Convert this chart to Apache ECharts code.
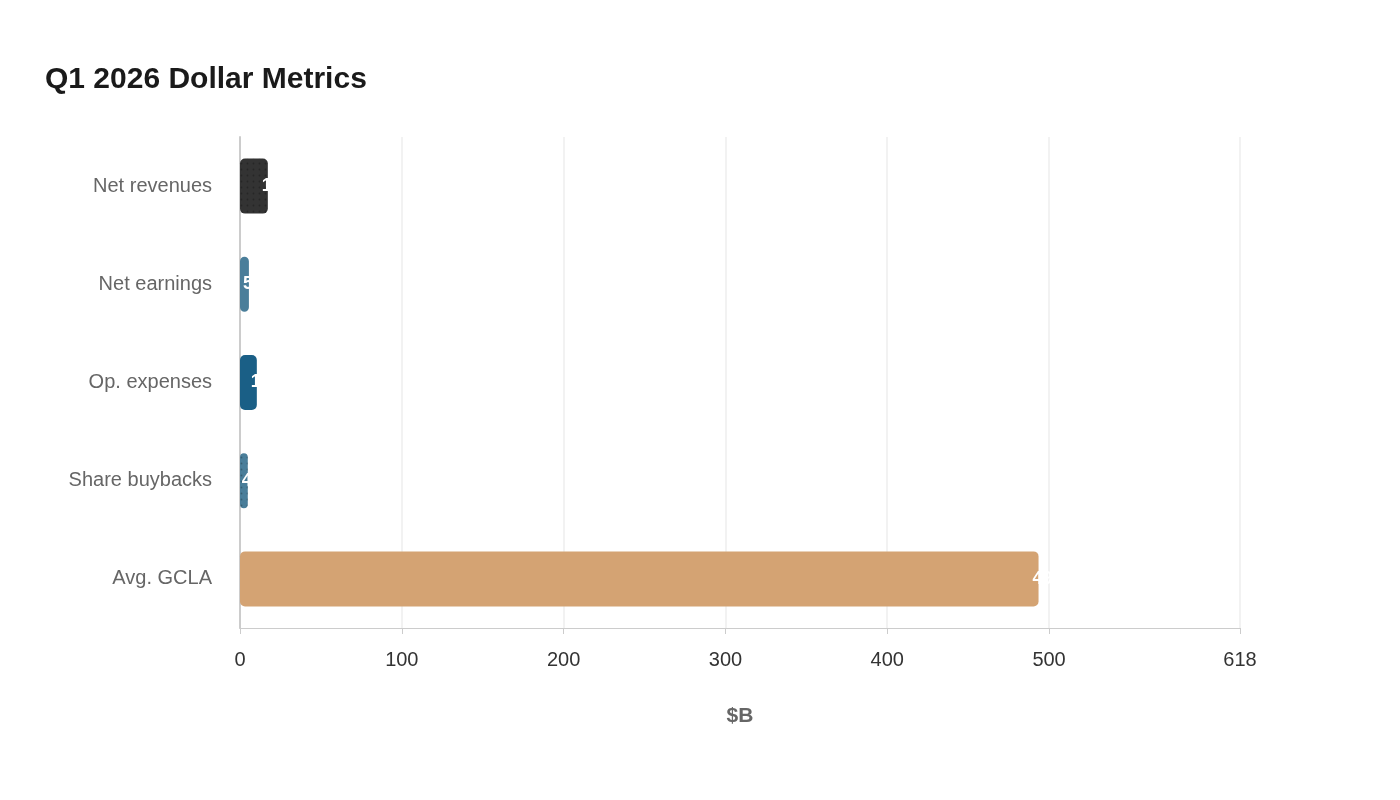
<!DOCTYPE html><html><head><meta charset="utf-8"><script src="https://cdn.jsdelivr.net/npm/echarts@6/dist/echarts.min.js"></script></head><body style="margin:0"><div id="c" style="width:1400px;height:800px"></div><script>
const categories=['Net revenues','Net earnings','Op. expenses','Share buybacks','Avg. GCLA'];
const values=[17.2,5.5,10.4,4.8,493.5];
const colors=['#333333','#4a7e9a','#1a5f86','#4a7e9a','#d4a373'];
const tickValues=[0,100,200,300,400,500,618];
const decalIdx=[0,3];
const chart=echarts.init(document.getElementById('c'));
chart.setOption({
 title:{text:'Q1 2026 Dollar Metrics',left:40,top:60,textStyle:{fontFamily:'Liberation Sans',fontSize:30,fontWeight:'bold',color:'#1a1a1a'}},
 grid:{left:240,right:160,top:137,bottom:172},
 xAxis:{type:'value',min:0,max:618,name:'$B',nameLocation:'middle',nameGap:78,
  nameTextStyle:{fontFamily:'Liberation Sans',fontSize:21,fontWeight:'bold',color:'#666'},
  axisLine:{show:true,lineStyle:{color:'#ccc'}},axisTick:{show:true,customValues:tickValues,length:6,lineStyle:{color:'#ccc'}},
  axisLabel:{customValues:tickValues,fontFamily:'Liberation Sans',fontSize:20,color:'#333',margin:22},
  splitLine:{show:true,lineStyle:{color:'#eee',width:1.5}}},
 yAxis:{type:'category',data:categories,inverse:true,axisLine:{lineStyle:{color:'#ccc',width:2}},axisTick:{show:false},
  axisLabel:{fontFamily:'Liberation Sans',fontSize:20,color:'#666',margin:28}},
 series:[{type:'bar',barWidth:55,data:values.map((v,i)=>({value:v,itemStyle:{color:colors[i],borderRadius:5,
   decal:decalIdx.includes(i)?{symbol:'circle',symbolSize:0.6,dashArrayX:3,dashArrayY:3,color:'rgba(0,0,0,0.25)'}:undefined}})),
  label:{show:true,position:'right',distance:-6,color:'#fff',fontFamily:'Liberation Sans',fontSize:18,fontWeight:'bold',formatter:p=>p.value}}]
});
</script></body></html>
